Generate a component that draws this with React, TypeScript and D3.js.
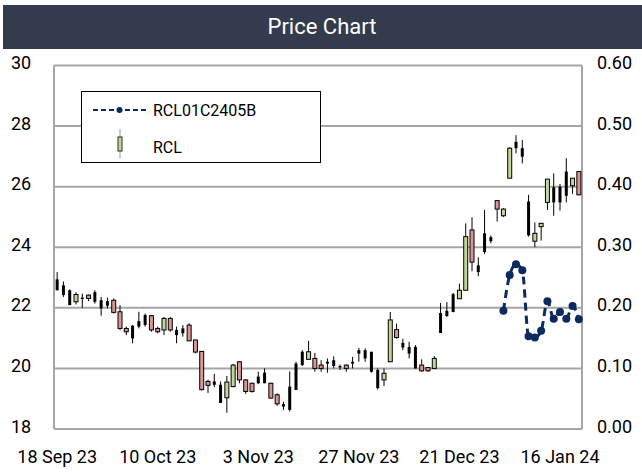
import React from "react";
import * as d3 from "d3";

// ---- Data ----
const kinds = ["k","k","k","g","k","r","k","k","k","r","r","r","k","k","k","r","r","g","r","k","k","r","r","r","r","k","k","g","g","r","r","r","k","k","r","r","k","k","k","k","g","r","r","k","k","k","r","k","k","k","k","k","g","g","r","k","k","k","r","r","g","k","k","k","g","g","r","k","k","k","r","g","g","k","k","k","g","g","g","k","k","k","g","r"];
const opens = [22.94,22.74,22.58,22.2,22.34,22.42,22.52,22.25,22.22,22.25,21.87,21.32,21.41,21.56,21.76,21.74,21.32,21.27,21.65,21.27,21.32,21.43,20.94,20.56,19.57,19.57,19.46,19.03,19.4,20.22,19.62,19.51,19.73,19.86,19.51,19.13,18.82,19.4,19.29,20.11,20.3,20.33,20.11,20.16,20.27,20.08,20.11,20.16,20.49,20.33,20.55,19.95,19.62,20.22,21.28,20.84,20.71,20.71,20.11,20.03,20.0,21.17,21.73,21.86,22.3,22.58,24.57,23.4,23.84,24.2,25.54,25.04,26.28,27.27,27.27,25.51,24.2,24.68,25.48,25.48,25.48,25.7,26.03,26.5];
const highs = [23.18,22.87,22.61,22.52,22.47,22.44,22.58,22.36,22.34,22.31,22.09,21.38,21.43,21.87,21.81,21.76,21.38,21.7,21.7,21.38,21.43,21.49,20.94,20.58,19.63,19.82,19.57,19.75,20.15,20.24,19.64,19.53,19.89,20.0,19.53,19.18,18.9,19.9,20.22,20.6,20.91,20.51,20.27,20.33,20.4,20.13,20.13,20.38,20.68,20.66,20.55,20.0,20.0,21.86,21.48,20.98,20.88,20.77,20.3,20.05,20.41,22.16,22.19,22.49,22.8,24.79,24.99,23.67,25.23,24.39,25.54,25.29,27.3,27.7,27.54,25.73,24.82,24.79,26.25,26.44,26.09,26.94,26.28,26.5];
const lows = [22.58,22.36,22.09,22.11,22.0,22.22,22.14,21.74,21.98,21.81,21.27,21.1,20.83,21.32,21.38,21.21,21.16,21.1,21.21,20.83,21.05,20.91,20.5,19.27,19.19,19.38,18.86,18.54,19.38,19.51,19.16,19.2,19.48,19.51,19.0,18.76,18.63,18.58,19.29,20.08,20.3,19.89,19.89,19.86,20.0,19.95,19.89,20.0,20.22,20.22,19.86,19.31,19.42,20.22,20.98,20.6,20.33,20.0,19.89,19.89,20.0,21.17,21.7,21.86,22.3,22.58,23.21,23.04,23.78,24.13,24.85,25.0,26.28,27.1,26.77,24.35,24.0,24.22,25.23,25.04,25.21,25.48,25.76,25.73];
const closes = [22.58,22.42,22.09,22.44,22.31,22.31,22.2,21.98,22.07,21.85,21.32,21.21,20.99,21.38,21.43,21.27,21.21,21.65,21.27,21.1,21.16,20.91,20.54,19.3,19.44,19.46,18.86,19.55,20.11,19.62,19.24,19.24,19.51,19.51,19.02,18.83,18.74,18.63,20.16,20.55,20.55,20.0,20.0,20.22,20.08,20.05,20.0,20.22,20.6,20.6,19.89,19.35,19.84,21.6,21.02,20.69,20.49,20.0,19.92,19.92,20.33,21.83,21.9,22.45,22.58,24.35,23.51,23.18,24.46,24.33,25.26,25.26,27.27,27.48,26.99,24.39,24.46,24.79,26.25,25.98,26.0,26.5,26.28,25.73];

const optionStart = 71;
const optionValues = [0.195,0.254,0.272,0.262,0.153,0.151,0.162,0.211,0.182,0.193,0.182,0.203,0.181];

const tickIndices = [0,16,32,48,64,80];
const tickLabels = ["18 Sep 23","10 Oct 23","3 Nov 23","27 Nov 23","21 Dec 23","16 Jan 24"];
const leftTicks = [18,20,22,24,26,28,30];
const rightTicks = [0,0.1,0.2,0.3,0.4,0.5,0.6];

const W = 642, H = 472;
const L = 54, R = 582, T = 65.5, B = 429;
const FONT = "Roboto, 'Liberation Sans', sans-serif";
const NAVY = "#0d2a60";
const GRID = "#a6a6a6";
const FILL: Record<string,string> = { g: "#c4d79b", r: "#da9694", k: "#000" };

export default function App() {
  const idx = d3.range(opens.length);
  const x = d3.scaleBand<number>().domain(idx).range([L, R]).padding(0);
  const cx = (i: number) => (x(i) as number) + x.bandwidth() / 2;
  const y = d3.scaleLinear().domain([18, 30]).range([B, T]);
  const y2 = d3.scaleLinear().domain([0, 0.6]).range([B, T]);

  const pts = optionValues.map((v, j) => [cx(optionStart + j), y2(v)] as [number, number]);
  const line = d3.line().curve(d3.curveMonotoneX)(pts) as string;

  return (
    <svg width={W} height={H} style={{ position: "absolute", left: 0, top: 0, background: "#fff" }} fontFamily={FONT}>
      <rect x={3} y={5} width={639} height={44} fill="#333b4c" />
      <text x={322} y={26} textAnchor="middle" dominantBaseline="central" fill="#fff" fontSize={22}>Price Chart</text>

      {leftTicks.map(t => (
        <line key={"g" + t} x1={L} x2={R} y1={y(t)} y2={y(t)} stroke={GRID} strokeWidth={2} />
      ))}
      <line x1={L} x2={L} y1={T} y2={B} stroke={GRID} strokeWidth={2} />
      <line x1={R} x2={R} y1={T} y2={B} stroke={GRID} strokeWidth={2} />

      {leftTicks.map(t => (
        <text key={"l" + t} x={11} y={y(t) - 3} dominantBaseline="central" fontSize={18} fill="#000">{d3.format("d")(t)}</text>
      ))}
      {rightTicks.map(t => (
        <text key={"r" + t} x={597} y={y2(t) - 3} dominantBaseline="central" fontSize={18} fill="#000">{d3.format(".2f")(t)}</text>
      ))}
      {tickIndices.map((ti, j) => (
        <text key={"x" + ti} x={cx(ti)} y={456} textAnchor="middle" dominantBaseline="central" fontSize={18} fill="#000">{tickLabels[j]}</text>
      ))}

      {idx.map(i => {
        const k = kinds[i];
        const top = y(Math.max(opens[i], closes[i]));
        const bot = y(Math.min(opens[i], closes[i]));
        const w = k === "k" ? 3 : 4;
        return (
          <g key={"c" + i}>
            <line x1={cx(i)} x2={cx(i)} y1={y(highs[i])} y2={y(lows[i])} stroke="#000" strokeWidth={1} />
            <rect x={cx(i) - w / 2} y={top} width={w} height={Math.max(bot - top, 1.5)} fill={FILL[k]} stroke={k === "k" ? "none" : "#000"} strokeWidth={1} />
          </g>
        );
      })}

      <path d={line} fill="none" stroke={NAVY} strokeWidth={3} strokeDasharray="8 5" />
      {pts.map((p, j) => (
        <circle key={"p" + j} cx={p[0]} cy={p[1]} r={4} fill={NAVY} />
      ))}

      <rect x={81.5} y={91.5} width={239} height={71} fill="#fff" stroke="#000" strokeWidth={1} />
      <line x1={93} x2={146} y1={110} y2={110} stroke={NAVY} strokeWidth={2} strokeDasharray="5 3" />
      <circle cx={119.5} cy={110} r={3} fill={NAVY} />
      <text x={153} y={110} dominantBaseline="central" fontSize={16} fill="#000">RCL01C2405B</text>
      <line x1={120} x2={120} y1={129} y2={158} stroke="#999" strokeWidth={1} />
      <rect x={118} y={137} width={4} height={14} fill="#c4d79b" stroke="#000" strokeWidth={0.8} />
      <text x={153} y={147} dominantBaseline="central" fontSize={16} fill="#000">RCL</text>
    </svg>
  );
}
